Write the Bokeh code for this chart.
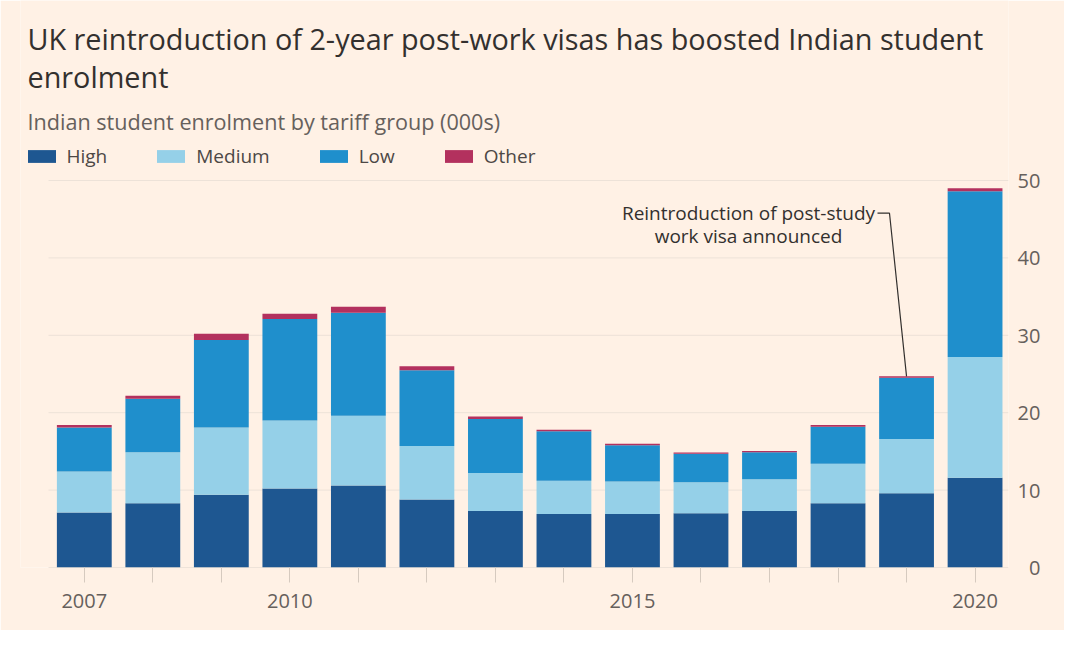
from bokeh.plotting import figure
from bokeh.models import Label, FixedTicker, ColumnDataSource, Range1d, Legend, LegendItem
from bokeh.embed import file_html
from bokeh.resources import INLINE

# ---------------- data ----------------
years = [2007, 2008, 2009, 2010, 2011, 2012, 2013, 2014, 2015, 2016, 2017, 2018, 2019, 2020]
high = [7.1, 8.3, 9.4, 10.2, 10.6, 8.8, 7.3, 6.9, 6.9, 7.0, 7.3, 8.3, 9.6, 11.6]
medium = [5.3, 6.6, 8.7, 8.8, 9.0, 6.9, 4.9, 4.3, 4.2, 4.0, 4.1, 5.1, 7.0, 15.6]
low = [5.7, 6.9, 11.3, 13.1, 13.3, 9.8, 7.0, 6.4, 4.7, 3.7, 3.5, 4.8, 7.9, 21.4]
other = [0.3, 0.4, 0.8, 0.7, 0.8, 0.5, 0.3, 0.2, 0.2, 0.15, 0.15, 0.2, 0.2, 0.4]
series_names = ["High", "Medium", "Low", "Other"]
series_colors = ["#1e5791", "#95d0e8", "#1f8fcc", "#b3315e"]
x_labelled_years = [2007, 2010, 2015, 2020]
y_ticks = [0, 10, 20, 30, 40, 50]
title_lines = ["UK reintroduction of 2-year post-work visas has boosted Indian student",
               "enrolment"]
subtitle = "Indian student enrolment by tariff group (000s)"
annotation_lines = ["Reintroduction of post-study", "work visa announced"]
annotation_year = 2019

# ---------------- layout / style ----------------
BG = "#fff1e5"
FONT = "Open Sans"
DARK = "#33302e"
GREY = "#66605c"
W, H = 1064, 630
FRAME_LEFT, FRAME_RIGHT, FRAME_TOP, FRAME_BOTTOM = 20, 1008, 0, 567
PX_PER_YEAR = 68.52
PX_PER_UNIT = 7.74
FIRST_BAR_PX = 83.8
GRID_LEFT_PX = 48

x_start = years[0] - (FIRST_BAR_PX - FRAME_LEFT) / PX_PER_YEAR
x_end = x_start + (FRAME_RIGHT - FRAME_LEFT) / PX_PER_YEAR
y_end = (FRAME_BOTTOM - FRAME_TOP) / PX_PER_UNIT


def dx(px):
    return x_start + (px - FRAME_LEFT) / PX_PER_YEAR


def dy(py):
    return (FRAME_BOTTOM - py) / PX_PER_UNIT


source = ColumnDataSource(dict(year=years, High=high, Medium=medium, Low=low, Other=other))

p = figure(width=W, height=H, x_range=Range1d(x_start, x_end), y_range=Range1d(0, y_end),
           output_backend="svg", toolbar_location=None, y_axis_location="right",
           min_border_left=FRAME_LEFT, min_border_right=W - FRAME_RIGHT,
           min_border_top=FRAME_TOP, min_border_bottom=H - FRAME_BOTTOM)
p.background_fill_color = BG
p.border_fill_color = BG
p.outline_line_color = None
p.xgrid.grid_line_color = None
p.ygrid.grid_line_color = None

# horizontal gridlines (drawn behind the bars)
grid_x0 = dx(GRID_LEFT_PX)
p.segment(x0=[grid_x0] * len(y_ticks), x1=[x_end] * len(y_ticks), y0=y_ticks, y1=y_ticks,
          line_color=["#ddd1c6" if t == 0 else "#ede2d8" for t in y_ticks], line_width=1)

renderers = p.vbar_stack(series_names, x="year", width=0.8, color=series_colors,
                         line_color=None, source=source)

# axes
xa = p.xaxis[0]
xa.ticker = FixedTicker(ticks=years)
xa.major_label_overrides = {y: (str(y) if y in x_labelled_years else "") for y in years}
xa.major_tick_out = 15
xa.major_tick_in = 0
xa.major_tick_line_color = "#d6cabf"
xa.axis_line_color = None
xa.minor_tick_line_color = None
xa.major_label_text_font = FONT
xa.major_label_text_font_size = "20px"
xa.major_label_text_color = GREY
xa.major_label_standoff = 11

ya = p.yaxis[0]
ya.ticker = FixedTicker(ticks=y_ticks)
ya.major_label_overrides = {t: (str(t) if t >= 10 else "\u2007" + str(t)) for t in y_ticks}
ya.major_tick_out = 0
ya.major_tick_in = 0
ya.minor_tick_line_color = None
ya.axis_line_color = None
ya.major_label_text_font = FONT
ya.major_label_text_font_size = "20px"
ya.major_label_text_color = GREY
ya.major_label_standoff = 9

# legend
items = [LegendItem(label=n, renderers=[r]) for n, r in zip(series_names, renderers)]
legend = Legend(items=items, orientation="horizontal", location=(3.5, 398),
                glyph_width=35, glyph_height=16, label_standoff=8, spacing=46,
                padding=0, margin=0, border_line_color=None, background_fill_alpha=0,
                label_text_font=FONT, label_text_font_size="19px", label_text_color="#4d4845")
p.add_layout(legend, "center")

# title & subtitle
for t, base in zip(title_lines, [37.5, 75.5]):
    p.add_layout(Label(x=dx(27), y=dy(base), text=t,
                       text_font=FONT, text_font_size="28.8px", text_color=DARK,
                       text_baseline="alphabetic", text_align="left"))
p.add_layout(Label(x=dx(27), y=dy(120.7), text=subtitle,
                   text_font=FONT, text_font_size="21.6px", text_color=GREY,
                   text_baseline="alphabetic", text_align="left"))

# annotation
ann_x = dx(748)
ann_y = [dy(212.7), dy(235)]
for t, yv in zip(annotation_lines, ann_y):
    p.add_layout(Label(x=ann_x, y=yv, text=t, text_font=FONT, text_font_size="19px",
                       text_color=DARK, text_baseline="alphabetic", text_align="center"))
idx = years.index(annotation_year)
top_2019 = high[idx] + medium[idx] + low[idx] + other[idx]
p.line(x=[dx(877), dx(889), annotation_year], y=[ann_y[0], ann_y[0], top_2019],
       line_color=DARK, line_width=1.2)

open("out.html", "w").write(file_html(p, INLINE))
